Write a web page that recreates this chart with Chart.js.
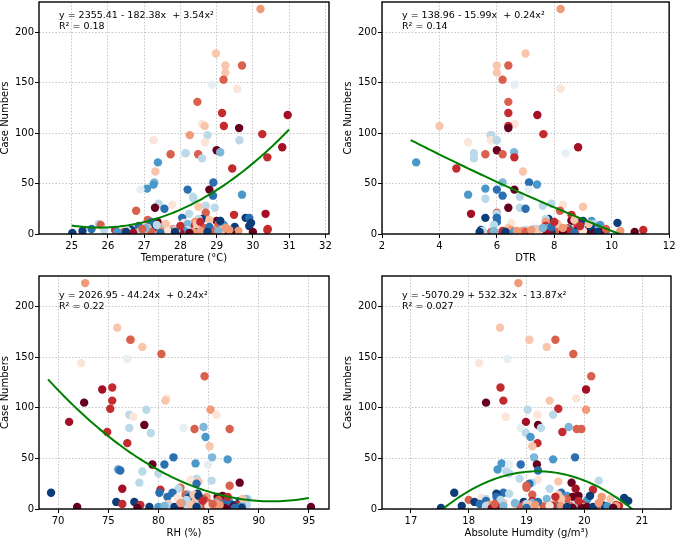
<!DOCTYPE html>
<html><head><meta charset="utf-8">
<script src="https://cdn.jsdelivr.net/npm/chart.js@4"></script>
<style>
body{margin:0;width:677px;height:539px;overflow:hidden;background:#fff;position:relative;}
canvas{position:absolute;}
</style>
</head><body>
<canvas id="c1"></canvas><canvas id="c2"></canvas><canvas id="c3"></canvas><canvas id="c4"></canvas>
<script>
// ---- observations (one entry per point, same order in every array) ----
const cases = [
 223,179,167,167,160,153,148,144,131,120,
 118,109,107,107,105,99,98,98,93,93,
 91,86,83,81,80,80,79,79,76,75,
 71,65,62,51,51,49,45,44,44,44,39,
 38,37,30,29,28,27,26,26,25,
 23,21,20,20,19,16,16,16,15,15,
 14,13,13,12,12,12,11,11,10,10,
 10,9,9,8,8,8,7,7,6,6,
 6,5,5,5,5,4,4,4,4,4,
 4,4,3,3,3,3,3,3,3,3,
 3,2,2,2,2,2,2,2,2,2,
 1,1,1,1,3,9,10,14,13,35,
 2,5,1,3,7,2,4,1,6,3,
 8,2,4,10,1,5,12,3,2,6];
const temperature = [
 30.21,28.98,29.24,29.70,29.24,29.19,28.87,29.57,28.47,29.15,
 30.96,28.6,29.2,28.67,29.62,30.26,28.26,28.75,27.26,29.63,
 28.68,30.81,29.0,29.1,28.1,28.15,27.73,28.49,30.4,28.6,
 27.38,29.43,27.31,28.91,27.28,27.26,27.08,28.8,26.9,28.2,29.7,
 28.9,28.35,27.4,27.78,28.7,28.5,27.3,28.95,27.56,
 26.78,28.7,28.24,30.35,29.48,29.8,28.05,29.9,28.6,28.5,
 27.1,29.1,29.0,27.37,27.2,28.4,28.1,29.95,25.75,29.05,
 28.2,25.8,29.2,26.85,29.9,28.4,29.5,27.3,27.1,27.5,
 28.65,25.55,30.41,27.8,28.45,25.9,26.2,26.65,27.0,28.2,
 30.4,28.9,25.3,26.9,27.45,27.95,28.5,29.2,28.1,29.6,
 26.55,26.43,30.0,29.25,26.5,27.2,27.7,28.35,29.3,26.25,
 25.02,26.7,28.0,29.22,27.9,27.35,27.6,28.8,29.1,28.36,
 27.6,27.9,28.25,28.55,28.8,28.95,29.15,29.4,27.05,27.65,
 28.0,28.75,29.35,28.45,27.45,26.95,28.55,29.05,27.85,29.25];
const dtr = [
 8.22,7.0,6.0,6.4,6.0,6.2,6.62,8.22,6.4,6.4,
 7.41,6.62,6.4,4.0,6.4,7.62,5.79,5.8,5.8,6.0,
 5.0,8.83,6.0,6.6,8.4,5.2,5.6,6.2,6.61,5.2,
 3.19,4.59,6.91,7.12,6.2,7.4,5.6,6.61,7.1,6.0,5.0,
 6.2,6.8,7.9,8.3,7.6,9.0,6.4,6.8,7.0,
 8.2,6.0,6.0,5.1,8.6,5.6,6.0,6.0,7.8,7.7,
 8.6,9.3,8.6,8.85,6.0,7.7,6.5,10.2,9.4,8.1,
 8.0,8.8,9.6,9.3,9.25,7.7,9.2,8.0,6.4,7.8,
 8.5,8.5,8.8,8.4,7.4,9.7,8.9,5.45,6.5,7.0,
 11.1,8.2,9.3,5.5,6.9,8.0,8.8,8.5,9.8,10.3,
 5.5,7.0,10.8,7.6,5.4,5.8,7.9,9.0,9.6,6.6,
 9.2,6.2,7.8,9.4,6.2,5.9,8.1,8.7,9.0,5.6,
 6.3,7.3,8.3,6.7,7.9,8.9,7.5,9.1,7.6,9.0,
 8.9,6.3,7.2,9.2,8.7,9.8,8.0,5.9,9.5,8.3];
const rh = [
 72.7,75.9,77.3,77.2,78.4,80.3,76.9,72.3,84.6,75.4,
 74.4,80.8,75.4,80.7,72.6,75.2,85.2,78.8,85.8,77.1,
 77.5,71.1,78.6,84.5,82.5,77.1,83.6,87.1,74.9,79.25,
 84.7,76.9,85.1,81.5,85.35,86.9,83.7,79.4,84.95,80.6,76.0,
 76.2,78.4,83.8,83.2,85.3,84.0,88.1,78.1,83.8,
 87.1,82.2,82.0,76.4,80.2,69.3,80.1,81.4,83.9,82.9,
 82.7,83.0,86.4,85.9,80.9,84.8,81.9,83.0,88.9,84.5,
 88.7,86.0,87.0,83.0,88.1,84.6,75.8,77.6,83.6,85.7,
 85.0,86.2,76.4,85.9,81.0,88.8,87.8,87.4,83.5,82.5,
 78.2,86.5,87.3,84.4,86.0,86.6,87.3,86.2,88.3,87.0,
 81.0,86.5,95.2,71.9,79.1,84.3,84.8,86.8,87.2,80.0,
 88.3,82.1,85.5,77.9,86.2,82.8,84.0,83.5,84.0,80.0,
 85.2,84.1,86.0,85.8,86.8,84.7,83.2,86.6,82.3,85.0,
 84.4,81.6,86.1,88.4,87.6,85.4,86.9,80.6,83.8,82.2];
const absHumidity = [
 18.86,18.54,19.05,19.5,19.35,19.81,18.67,18.18,20.12,18.55,
 20.03,19.86,18.6,19.4,18.3,19.55,20.03,19.02,19.19,19.46,
 18.64,18.99,19.2,19.73,18.9,19.25,19.87,19.95,19.62,18.99,
 19.07,19.19,19.1,19.84,19.13,19.46,18.57,19.18,18.7,18.9,18.5,
 19.2,18.65,18.88,19.2,20.25,19.55,19.78,19.1,19.05,
 19.0,19.0,19.4,19.85,20.15,17.75,19.6,18.6,18.48,18.7,
 19.1,19.7,19.9,19.8,18.48,20.3,18.22,20.69,18.3,19.7,
 19.35,18.0,20.05,18.3,20.76,19.1,18.1,18.95,18.6,19.1,
 19.55,18.19,19.95,20.3,18.8,18.4,18.95,18.45,18.35,19.8,
 20.55,19.45,17.88,18.3,19.3,19.75,20.35,20.6,20.4,20.55,
 19.0,19.05,20.02,18.5,18.9,18.9,19.5,20.0,20.05,19.5,
 17.52,18.5,18.4,19.8,19.45,18.55,19.6,19.55,20.1,18.7,
 19.3,19.0,19.95,19.6,19.2,20.2,19.05,20.5,18.8,19.4,
 19.9,19.7,19.15,20.45,19.0,18.45,19.5,18.6,20.15,20.25];
const colorGroup = [
 4,5,5,3,5,3,7,6,3,2,
 1,6,2,5,0,2,4,8,6,8,
 6,1,0,9,7,8,3,3,2,8,
 10,2,5,11,9,10,10,0,7,11,10,
 11,8,8,6,8,5,0,8,11,
 3,3,8,1,2,12,11,11,12,8,
 3,10,0,0,11,4,6,12,8,3,
 9,3,10,11,12,2,12,12,5,9,
 3,11,2,4,5,8,2,12,4,8,
 2,4,12,8,4,3,12,2,10,4,
 8,3,0,0,12,3,12,4,0,10,
 12,1,1,0,2,8,5,5,12,8,
 3,8,0,4,11,3,5,0,9,6,
 2,12,4,5,11,3,2,9,12,4];
const palette = ['#67001f','#a50f26','#c42b2f','#d9604c','#f09a78','#f9c6ab','#fbe5d8',
                 '#e6eff4','#bcd9ea','#7fb7d9','#4a98c9','#2a6fb0','#0b3d78'];

// ---- ticks ----
const caseTicks = [0,50,100,150,200];
const tempTicks = [25,26,27,28,29,30,31,32];
const dtrTicks = [2,4,6,8,10,12];
const rhTicks = [70,75,80,85,90,95];
const ahTicks = [17,18,19,20,21];

// ---- quadratic fits: [a, b, c] for y = a + b x + c x^2, and x range of the drawn curve ----
const tempFit = [2355.41,-182.38,3.54];   const tempFitRange = [25,31];
const dtrFit = [138.96,-15.99,0.24];      const dtrFitRange = [3,10.3];
const rhFit = [2026.95,-44.24,0.2423];    const rhFitRange = [69,95];
const ahFit = [-5070.29,532.32,-13.87];   const ahFitRange = [17.5,20.9];
const fitText = [
 ['y = 2355.41 - 182.38x  + 3.54x\u00b2','R\u00b2 = 0.18'],
 ['y = 138.96 - 15.99x  + 0.24x\u00b2','R\u00b2 = 0.14'],
 ['y = 2026.95 - 44.24x  + 0.24x\u00b2','R\u00b2 = 0.22'],
 ['y = -5070.29 + 532.32x  - 13.87x\u00b2','R\u00b2 = 0.027']];

const FONT = '"DejaVu Sans", sans-serif';
// canvas boxes: chart area top = canvas top + 6 (half tick-label height reserved by Chart.js)
const panels = [
 {id:'c1', xs:temperature, ticks:tempTicks, fit:tempFit, range:tempFitRange, xmin:24.1, xmax:32.1, title:'Temperature (\u00b0C)', text:fitText[0], left:0, top:-5, w:338, h:273, pr:9, ty:14},
 {id:'c2', xs:dtr, ticks:dtrTicks, fit:dtrFit, range:dtrFitRange, xmin:2, xmax:12, title:'DTR', text:fitText[1], left:343, top:-5, w:335, h:273, pr:7, ty:14},
 {id:'c3', xs:rh, ticks:rhTicks, fit:rhFit, range:rhFitRange, xmin:68.1, xmax:97, title:'RH (%)', text:fitText[2], left:0, top:269, w:338, h:274, pr:9, ty:19.7},
 {id:'c4', xs:absHumidity, ticks:ahTicks, fit:ahFit, range:ahFitRange, xmin:16.5, xmax:21.5, title:'Absolute Humdity (g/m\u00b3)', text:fitText[3], left:343, top:269, w:335, h:274, pr:7, ty:19.7}
];

const framePlugin = {
  id:'frame',
  afterDraw(chart){
    const a = chart.chartArea, ctx = chart.ctx, p = chart.options.plugins.frame;
    ctx.save();
    ctx.strokeStyle = '#000'; ctx.lineWidth = 1.4;
    ctx.strokeRect(a.left, a.top, a.right - a.left, a.bottom - a.top);
    ctx.fillStyle = '#000'; ctx.font = '9.5px ' + FONT; ctx.textBaseline = 'middle'; ctx.textAlign = 'left';
    ctx.fillText(p.lines[0], a.left + 20, a.top + p.ty);
    ctx.fillText(p.lines[1], a.left + 20, a.top + p.ty + 10.5);
    ctx.restore();
  }
};

panels.forEach(p => {
  const cv = document.getElementById(p.id);
  cv.width = p.w; cv.height = p.h;
  cv.style.left = p.left + 'px'; cv.style.top = p.top + 'px';
  const pts = cases.map((c,i) => ({x:p.xs[i], y:c}));
  const cols = colorGroup.map(g => palette[g]);
  const curve = [];
  const n = 80;
  for (let k = 0; k <= n; k++) {
    const x = p.range[0] + (p.range[1]-p.range[0])*k/n;
    curve.push({x, y: p.fit[0] + p.fit[1]*x + p.fit[2]*x*x});
  }
  const gridCommon = {color:'#b8b8b8', lineWidth:0.8, drawTicks:true, tickLength:4, tickColor:'#000', tickWidth:1, tickBorderDash:[]};
  new Chart(cv, {
    type:'scatter',
    data:{datasets:[
      {data:curve, showLine:true, borderColor:'#008000', borderWidth:2, pointRadius:0, tension:0, order:0},
      {data:pts, pointRadius:4.2, pointBackgroundColor:cols, pointBorderWidth:0, borderWidth:0, order:1}
    ]},
    options:{
      responsive:false, animation:false, events:[],
      layout:{padding:{top:0, right:p.pr, left:0, bottom:0}},
      plugins:{legend:{display:false}, tooltip:{enabled:false}, frame:{lines:p.text, ty:p.ty}},
      scales:{
        x:{type:'linear', min:p.xmin, max:p.xmax,
           afterBuildTicks:s => { s.ticks = p.ticks.map(v => ({value:v})); },
           afterFit:s => { s.height = 34; },
           grid:gridCommon, border:{display:false, dash:[1.5,1.8]},
           ticks:{color:'#000', font:{family:FONT, size:10}, padding:2.5, autoSkip:false, maxRotation:0},
           title:{display:true, text:p.title, color:'#000', font:{family:FONT, size:10, lineHeight:1.2}, padding:{top:0, bottom:4}}},
        y:{type:'linear', min:0, max:230,
           afterBuildTicks:s => { s.ticks = caseTicks.map(v => ({value:v})); },
           afterFit:s => { s.width = 39; },
           grid:gridCommon, border:{display:false, dash:[1.5,1.8]},
           ticks:{color:'#000', font:{family:FONT, size:10}, padding:1},
           title:{display:true, text:'Case Numbers', color:'#000', font:{family:FONT, size:10, lineHeight:1}, padding:{top:0, bottom:0}}}
      }
    },
    plugins:[framePlugin]
  });
});
</script>
</body></html>
